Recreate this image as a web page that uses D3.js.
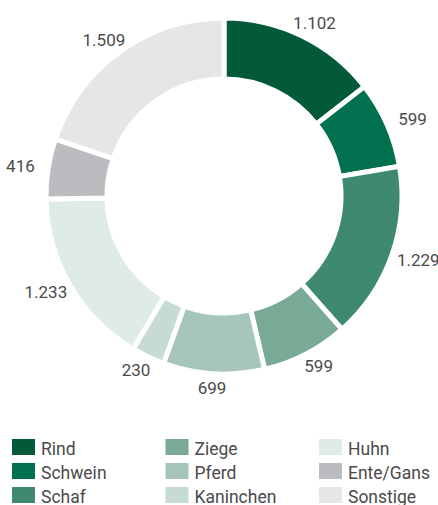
<!DOCTYPE html>
<html>
<head>
<meta charset="utf-8">
<script src="https://cdn.jsdelivr.net/npm/d3@7"></script>
<style>
  html, body { margin: 0; padding: 0; background: #fff; }
  svg { display: block; }
  text { font-family: Roboto, "Open Sans", "Liberation Sans", sans-serif; font-weight: 400; fill: #4a4a4a; }
</style>
</head>
<body>
<svg id="chart" width="438" height="505"></svg>
<script>
const categories = ["Rind", "Schwein", "Schaf", "Ziege", "Pferd", "Kaninchen", "Huhn", "Ente/Gans", "Sonstige"];
const values = [1102, 599, 1229, 599, 699, 230, 1233, 416, 1509];
const valueLabels = ["1.102", "599", "1.229", "599", "699", "230", "1.233", "416", "1.509"];
const colors = ["#035a38", "#00704f", "#3f8a6f", "#79aa96", "#a5c6b8", "#c6dcd3", "#deebe6", "#bbbcc0", "#e5e6e8"];

const svg = d3.select("#chart");
const cx = 224, cy = 196;
const outerR = 178, innerR = 117;
const labelRx = 206, labelRy = 192;

const data = categories.map((c, i) => ({ name: c, value: values[i], label: valueLabels[i], color: colors[i] }));

const pie = d3.pie().sort(null).value(d => d.value);
const arcs = pie(data);
const arc = d3.arc().innerRadius(innerR).outerRadius(outerR);

const g = svg.append("g").attr("transform", `translate(${cx},${cy})`);

g.selectAll("path.slice")
  .data(arcs)
  .join("path")
  .attr("class", "slice")
  .attr("d", arc)
  .attr("fill", d => d.data.color)
  .attr("stroke", "#fff")
  .attr("stroke-width", 5)
  .attr("stroke-linejoin", "miter");

g.selectAll("text.val")
  .data(arcs)
  .join("text")
  .attr("class", "val")
  .attr("transform", d => {
    const a = (d.startAngle + d.endAngle) / 2;
    const x = labelRx * Math.sin(a);
    const y = -labelRy * Math.cos(a);
    return `translate(${x},${y})`;
  })
  .attr("text-anchor", "middle")
  .attr("dy", "0.35em")
  .attr("font-size", 17)
  .text(d => d.data.label);

// Legend: 3 columns, column-major
const colX = d3.scalePoint().domain([0, 1, 2]).range([12, 319]);
const rowY = d3.scalePoint().domain([0, 1, 2]).range([439, 487]);
const legend = svg.append("g");
const items = legend.selectAll("g.item")
  .data(data)
  .join("g")
  .attr("class", "item")
  .attr("transform", (d, i) => `translate(${colX(Math.floor(i / 3))},${rowY(i % 3)})`);
items.append("rect")
  .attr("width", 23)
  .attr("height", 16)
  .attr("fill", d => d.color);
items.append("text")
  .attr("x", 29)
  .attr("y", 15.5)
  .attr("font-size", 17.5)
  .text(d => d.name);
</script>
</body>
</html>
